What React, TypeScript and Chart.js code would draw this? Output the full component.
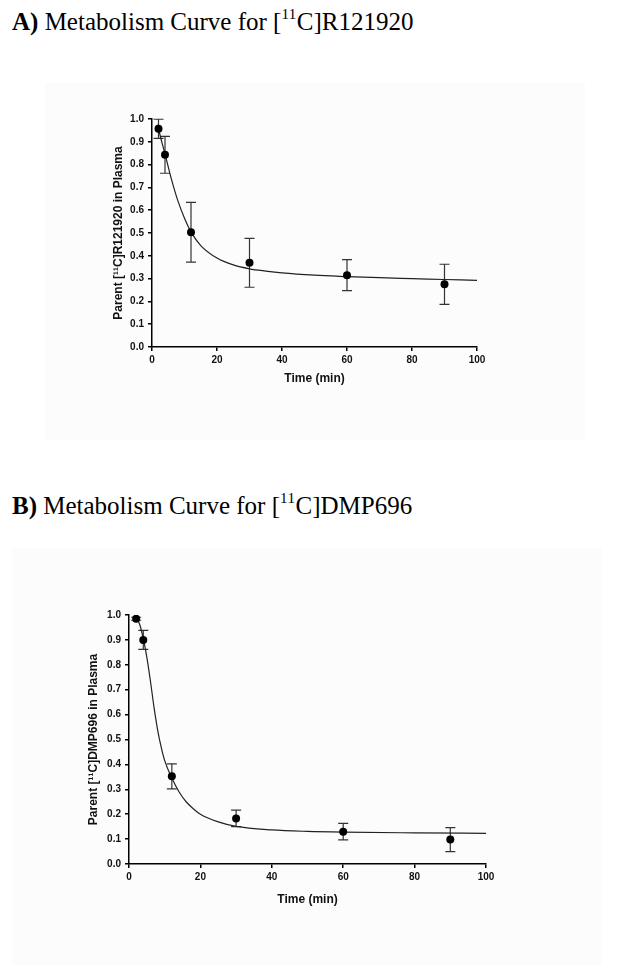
import React, { useEffect, useRef } from "react";
import { Chart, registerables } from "chart.js";

Chart.register(...registerables);

// ---------- Data: panel A ([11C]R121920) ----------
const timesA = [2, 4, 12, 30, 60, 90];
const meansA = [0.957, 0.843, 0.503, 0.369, 0.315, 0.275];
const errsA = [0.042, 0.081, 0.131, 0.107, 0.068, 0.088];
const fitTimesA = [1.5, 2, 3, 4, 5, 6, 7, 8, 10, 12, 15, 20, 25, 30, 35, 40, 50, 60, 70, 80, 90, 100];
const fitValuesA = [0.975, 0.955, 0.9, 0.847, 0.79, 0.735, 0.685, 0.64, 0.565, 0.505, 0.445, 0.39, 0.36, 0.343, 0.333, 0.325, 0.315, 0.309, 0.304, 0.3, 0.296, 0.292];

// ---------- Data: panel B ([11C]DMP696) ----------
const timesB = [2, 4, 12, 30, 60, 90];
const meansB = [0.985, 0.9, 0.352, 0.183, 0.13, 0.098];
const errsB = [0.006, 0.038, 0.05, 0.033, 0.033, 0.048];
const fitTimesB = [2, 3, 4, 5, 6, 7, 8, 9, 10, 12, 14, 16, 18, 20, 25, 30, 40, 50, 60, 80, 100];
const fitValuesB = [0.99, 0.962, 0.905, 0.83, 0.735, 0.63, 0.54, 0.47, 0.415, 0.345, 0.29, 0.25, 0.222, 0.2, 0.169, 0.151, 0.137, 0.131, 0.128, 0.125, 0.123];

// ---------- Axis ticks ----------
const xTicks = [0, 20, 40, 60, 80, 100];
const yTicks = [0, 0.1, 0.2, 0.3, 0.4, 0.5, 0.6, 0.7, 0.8, 0.9, 1.0];

const SANS = '"Liberation Sans", Arial, sans-serif';
const SERIF = '"Liberation Serif", "Times New Roman", serif';

const errorBarPlugin = {
  id: "errorBars",
  beforeDatasetsDraw(chart: any, _args: any, opts: any) {
    const { ctx, scales } = chart;
    const x = scales.x;
    const y = scales.y;
    ctx.save();
    ctx.strokeStyle = "#333";
    ctx.lineWidth = 1.2;
    opts.times.forEach((t: number, i: number) => {
      const px = x.getPixelForValue(t);
      const top = y.getPixelForValue(opts.means[i] + opts.errs[i]);
      const bot = y.getPixelForValue(opts.means[i] - opts.errs[i]);
      const cap = 5;
      ctx.beginPath();
      ctx.moveTo(px, top);
      ctx.lineTo(px, bot);
      ctx.moveTo(px - cap, top);
      ctx.lineTo(px + cap, top);
      ctx.moveTo(px - cap, bot);
      ctx.lineTo(px + cap, bot);
      ctx.stroke();
    });
    ctx.restore();
  },
};

type Props = {
  left: number;
  top: number;
  width: number;
  height: number;
  padding: { left: number; top: number; right: number; bottom: number };
  yAxisWidth: number;
  xAxisHeight: number;
  yTitlePad: number;
  yTitle: string;
  times: number[];
  means: number[];
  errs: number[];
  fitTimes: number[];
  fitValues: number[];
};

function MetabolismChart(p: Props) {
  const ref = useRef<HTMLCanvasElement>(null);
  useEffect(() => {
    const chart = new Chart(ref.current as HTMLCanvasElement, {
      type: "scatter",
      data: {
        datasets: [
          {
            data: p.times.map((t, i) => ({ x: t, y: p.means[i] })),
            showLine: false,
            pointRadius: 4,
            pointBackgroundColor: "#000",
            pointBorderColor: "#000",
            pointBorderWidth: 0,
          },
          {
            data: p.fitTimes.map((t, i) => ({ x: t, y: p.fitValues[i] })),
            showLine: true,
            borderColor: "#222",
            borderWidth: 1.2,
            pointRadius: 0,
            cubicInterpolationMode: "monotone",
            fill: false,
          },
        ],
      } as any,
      options: {
        responsive: false,
        animation: false,
        layout: { padding: p.padding },
        plugins: {
          legend: { display: false },
          tooltip: { enabled: false },
          errorBars: { times: p.times, means: p.means, errs: p.errs },
        } as any,
        scales: {
          x: {
            type: "linear",
            min: 0,
            max: 100,
            afterBuildTicks: (s: any) => {
              s.ticks = xTicks.map((v) => ({ value: v }));
            },
            afterFit: (s: any) => {
              s.height = p.xAxisHeight;
            },
            grid: {
              display: true,
              drawOnChartArea: false,
              drawTicks: true,
              tickLength: 4,
              color: "#000",
              lineWidth: 1.5,
            },
            border: { display: true, color: "#000", width: 1.5 },
            ticks: {
              padding: 3,
              color: "#111",
              font: { family: SANS, size: 10, weight: "bold" },
              callback: (v: any) => String(v),
              maxRotation: 0,
            },
            title: {
              display: true,
              text: "Time (min)",
              color: "#111",
              font: { family: SANS, size: 12, weight: "bold" },
              padding: { top: 0, bottom: 1 },
            },
          },
          y: {
            type: "linear",
            min: 0,
            max: 1,
            afterBuildTicks: (s: any) => {
              s.ticks = yTicks.map((v) => ({ value: v }));
            },
            afterFit: (s: any) => {
              s.width = p.yAxisWidth;
            },
            grid: {
              display: true,
              drawOnChartArea: false,
              drawTicks: true,
              tickLength: 4,
              color: "#000",
              lineWidth: 1.5,
            },
            border: { display: true, color: "#000", width: 1.5 },
            ticks: {
              padding: 4,
              color: "#111",
              font: { family: SANS, size: 10, weight: "bold" },
              callback: (v: any) => Number(v).toFixed(1),
            },
            title: {
              display: true,
              text: p.yTitle,
              color: "#111",
              font: { family: SANS, size: 12, weight: "bold" },
              padding: { top: p.yTitlePad, bottom: 0 },
            },
          },
        },
      } as any,
      plugins: [errorBarPlugin],
    });
    return () => chart.destroy();
  }, []);
  return (
    <canvas
      ref={ref}
      width={p.width}
      height={p.height}
      style={{ position: "absolute", left: p.left, top: p.top, width: p.width, height: p.height }}
    />
  );
}

function Title({ top, label, rest, compound }: { top: number; label: string; rest: string; compound: string }) {
  return (
    <div
      style={{
        position: "absolute",
        left: 12,
        top,
        fontFamily: SERIF,
        fontSize: 25,
        lineHeight: "25px",
        whiteSpace: "nowrap",
        color: "#000",
      }}
    >
      <b>{label}</b> {rest} [
      <span style={{ fontSize: 15, position: "relative", top: -11, letterSpacing: 0.5 }}>11</span>
      C]{compound}
    </div>
  );
}

export default function App() {
  return (
    <div
      style={{
        position: "absolute",
        left: 0,
        top: 0,
        width: 618,
        height: 978,
        background: "#fff",
        overflow: "hidden",
      }}
    >
      <Title top={9} label="A)" rest="Metabolism Curve for" compound="R121920" />
      <div style={{ position: "absolute", left: 45, top: 83, width: 540, height: 357, background: "#fcfcfc" }} />
      <MetabolismChart
        left={45}
        top={83}
        width={545}
        height={355}
        padding={{ left: 0, top: 36, right: 113, bottom: 51 }}
        yAxisWidth={107}
        xAxisHeight={40}
        yTitlePad={66}
        yTitle="Parent [¹¹C]R121920 in Plasma"
        times={timesA}
        means={meansA}
        errs={errsA}
        fitTimes={fitTimesA}
        fitValues={fitValuesA}
      />

      <Title top={493} label="B)" rest="Metabolism Curve for" compound="DMP696" />
      <div style={{ position: "absolute", left: 12, top: 548, width: 590, height: 417, background: "#fcfcfc" }} />
      <MetabolismChart
        left={13}
        top={548}
        width={592}
        height={417}
        padding={{ left: 0, top: 67, right: 119, bottom: 57 }}
        yAxisWidth={116}
        xAxisHeight={44}
        yTitlePad={73}
        yTitle="Parent [¹¹C]DMP696 in Plasma"
        times={timesB}
        means={meansB}
        errs={errsB}
        fitTimes={fitTimesB}
        fitValues={fitValuesB}
      />
    </div>
  );
}
